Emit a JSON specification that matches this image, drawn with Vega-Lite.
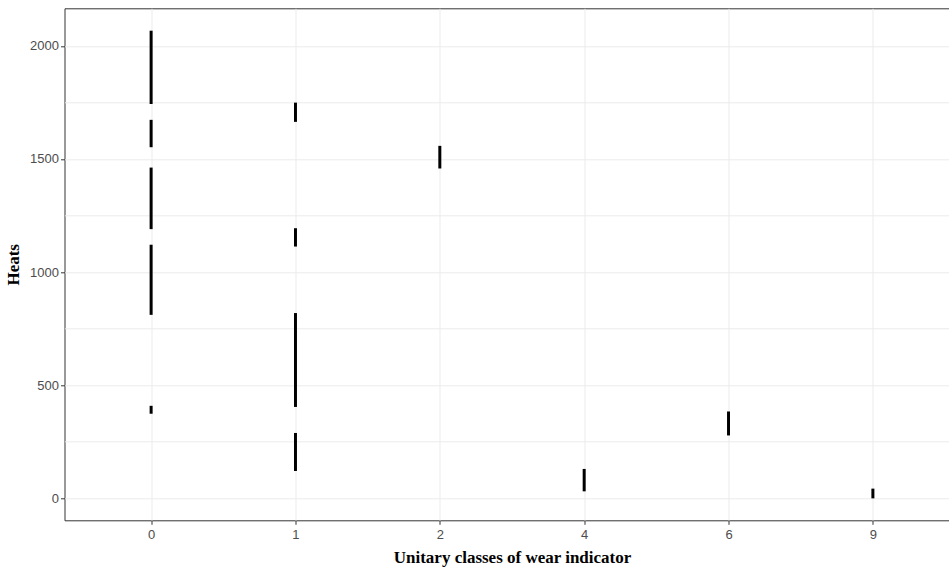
{
  "$schema": "https://vega.github.io/schema/vega-lite/v6.json",
  "autosize": {"type": "none"},
  "width": 895,
  "height": 512,
  "padding": {"left": 64.5, "top": 8.3, "right": 0, "bottom": 60},
  "background": "white",
  "config": {
    "view": {"stroke": "#333333", "strokeWidth": 1},
    "axis": {
      "labelFont": "Liberation Sans",
      "labelFontSize": 13,
      "labelColor": "#4d4d4d",
      "titleFont": "Liberation Serif",
      "titleFontWeight": "bold",
      "titleColor": "#000000",
      "tickColor": "#333333",
      "tickSize": 4,
      "domain": false,
      "gridColor": "#ebebeb",
      "gridWidth": 1
    }
  },
  "data": {
    "values": [
      {"cls": "0", "start": 1743, "end": 2067},
      {"cls": "0", "start": 1552, "end": 1673},
      {"cls": "0", "start": 1190, "end": 1462},
      {"cls": "0", "start": 811, "end": 1121},
      {"cls": "0", "start": 374, "end": 409},
      {"cls": "1", "start": 1664, "end": 1749},
      {"cls": "1", "start": 1113, "end": 1194},
      {"cls": "1", "start": 404, "end": 819},
      {"cls": "1", "start": 121, "end": 289},
      {"cls": "2", "start": 1458, "end": 1558},
      {"cls": "4", "start": 31, "end": 130},
      {"cls": "6", "start": 278, "end": 384},
      {"cls": "9", "start": 0, "end": 43}
    ]
  },
  "mark": {"type": "rule", "strokeWidth": 3, "color": "#000000", "strokeCap": "butt"},
  "encoding": {
    "x": {
      "field": "cls",
      "type": "ordinal",
      "scale": {"type": "point", "padding": 0.6},
      "axis": {
        "title": "Unitary classes of wear indicator",
        "titleFontSize": 17,
        "titlePadding": 8,
        "labelAngle": 0,
        "labelPadding": 4,
        "grid": true
      }
    },
    "y": {
      "field": "start",
      "type": "quantitative",
      "scale": {"domain": [-97, 2166], "nice": false, "zero": false},
      "axis": {
        "title": "Heats",
        "titleFontSize": 17,
        "titlePadding": 7,
        "format": "d",
        "values": [0, 250, 500, 750, 1000, 1250, 1500, 1750, 2000],
        "labelExpr": "datum.value % 500 === 0 ? datum.label : ''",
        "tickColor": {"condition": {"test": "datum.value % 500 === 0", "value": "#333333"}, "value": "transparent"},
        "labelPadding": 2,
        "grid": true
      }
    },
    "y2": {"field": "end"}
  }
}
